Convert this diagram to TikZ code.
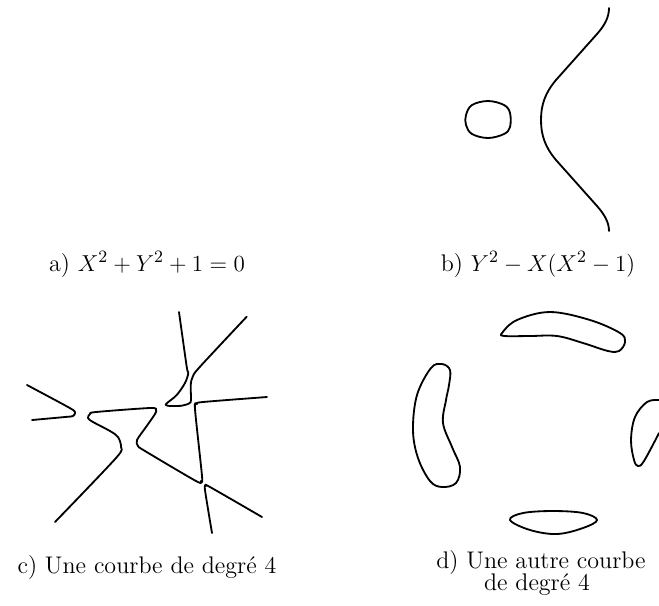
\documentclass[tikz,border=0pt]{standalone}
\usepackage{amsmath}
\begin{document}
\begin{tikzpicture}[x=0.52pt,y=-0.52pt,
  crv/.style={line width=0.95pt, line join=round, line cap=round},
  captxt/.style={anchor=base, inner sep=0pt, font=\fontsize{12.5}{15}\selectfont}]
\useasboundingbox (0,0) rectangle (659,605);
% captions
\node[captxt] (ca) at (147,271) {a) $X^2+Y^2+1=0$};
\node[captxt] (cb) at (538,271) {b) $Y^2-X(X^2-1)$};
\node[captxt] (cc) at (147,573) {c) Une courbe de degré 4};
\node[captxt] (cd1) at (541,568) {d) Une autre courbe};
\node[captxt] (cd2) at (537,590) {de degré 4};
% curve b
\draw[crv] plot[smooth cycle, tension=0.6] coordinates {(488,101) (504,105) (510,113) (510,127) (504,134) (488,138) (472,134) (466,125) (466,115) (472,105)};
\draw[crv] (609,8) .. controls (609,18) and (604,26) .. (597,34)
  -- (556,80) .. controls (545,93) and (541,105) .. (541,120)
  .. controls (541,135) and (545,147) .. (556,160)
  -- (597,206) .. controls (604,214) and (609,222) .. (609,231);
% curve c
\draw[crv] plot[smooth, tension=0.5] coordinates {(27,385) (68,407) (75,412) (73,416) (65,417) (32,420)};
\draw[crv] plot[smooth, tension=0.5] coordinates {(55,522) (116,458) (121,447) (118,437) (110,431) (93,422) (88,418) (90,414) (96,412) (150,408) (156,410) (155,414) (146,427) (137,440) (138,446) (145,451) (196,481) (201,481) (202,476) (195,409) (197,404) (203,402) (267,397)};
\draw[crv] plot[smooth, tension=0.5] coordinates {(179,312) (186.7,366.7) (188.3,373) (185,383) (176.7,395) (166.7,403.3) (166,405) (170,406) (181.7,405.7) (189.3,403.3) (191,400) (190.7,385) (192.7,376.7) (200,366.7) (246.7,316.7)};
\draw[crv] plot[smooth, tension=0.5] coordinates {(212,533) (205,490) (206,486) (210,487) (262,517)};
% curve d
\draw[crv] plot[smooth cycle, tension=0.6] coordinates {(502,333) (517,320) (550,312) (590,320) (620,333) (625,342) (619,351) (608,351) (583,343) (557,336) (530,336) (505,336)};
\draw[crv] plot[smooth cycle, tension=0.6] coordinates {(442,364) (450,370) (449,385) (446,400) (443,423) (452,447) (460,467) (456,483) (442,487) (430,481) (418,458) (413,430) (417,395) (431,368)};
\draw[crv] plot[smooth, tension=0.6] coordinates {(659,400) (647,402) (635,417) (631,440) (634,460) (638,466) (644,461) (659,433)};
\draw[crv] plot[smooth cycle, tension=0.6] coordinates {(510,520) (523,513) (553,511) (583,513) (597,520) (583,528) (557,534) (530,530)};
\end{tikzpicture}
\end{document}
